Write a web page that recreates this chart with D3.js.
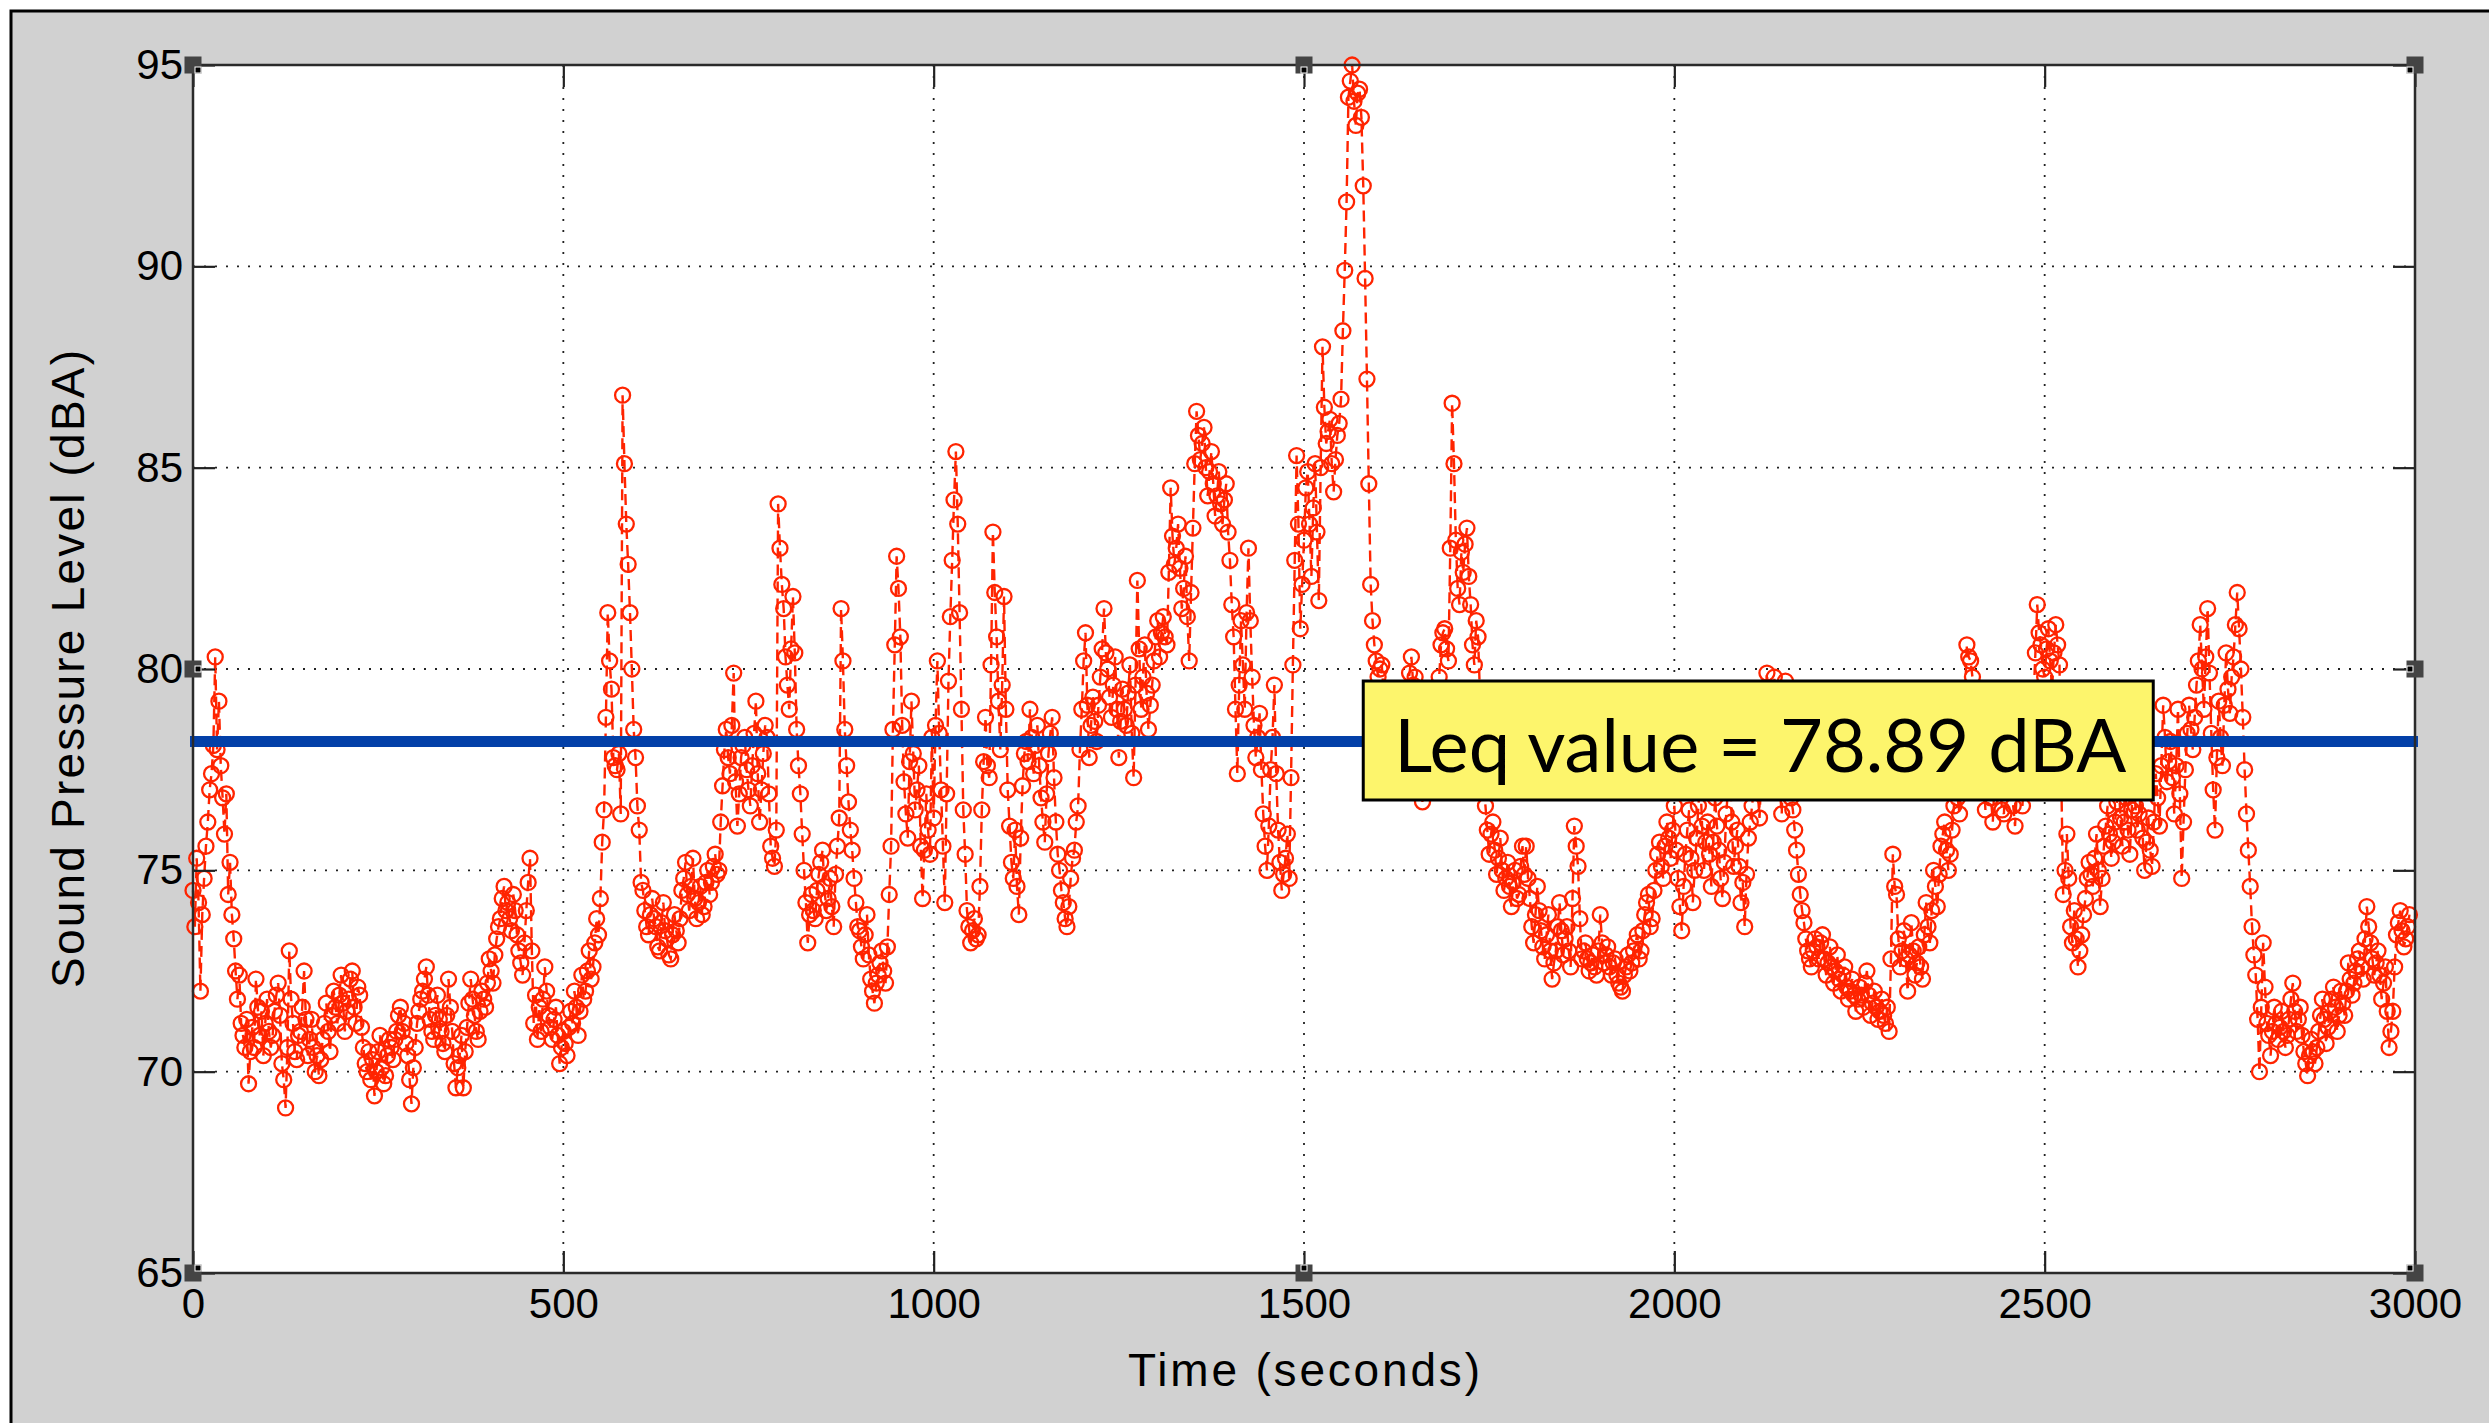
<!DOCTYPE html>
<html>
<head>
<meta charset="utf-8">
<script src="https://cdn.jsdelivr.net/npm/d3@7"></script>
<style>
  html, body { margin: 0; padding: 0; background: #fff; }
</style>
</head>
<body>
<div id="renderDiv"></div>
<script>
// sound pressure level (dBA), one sample every 2.5 s
const sampleStep = 2.5;
const spl0to500 = [
  74.5, 73.6, 75.3, 74.2, 72.0, 73.9, 74.8, 75.6, 76.2, 77.0, 77.4, 78.1, 80.3, 78.0, 79.2, 77.6, 76.8, 75.9, 76.9, 74.4,
  75.2, 73.9, 73.3, 72.5, 71.8, 72.4, 71.2, 70.9, 70.6, 71.3, 69.7, 70.5, 71.1, 70.6, 72.3, 71.6, 70.9, 71.5, 70.4, 71.2,
  71.8, 71.0, 70.6, 70.9, 71.5, 71.9, 72.2, 71.4, 70.2, 69.8, 69.1, 70.6, 73.0, 71.8, 71.2, 70.5, 70.3, 70.9, 71.0, 71.6,
  72.5, 71.3, 70.4, 70.8, 71.3, 70.6, 70.0, 70.4, 69.9, 70.3, 70.8, 71.2, 71.7, 71.0, 70.5, 71.4, 72.0, 71.6, 71.2, 71.9,
  72.4, 71.7, 71.0, 71.5, 71.8, 72.3, 72.5, 71.6, 71.2, 72.1, 71.9, 71.1, 70.6, 70.2, 70.0, 70.5, 69.8, 70.3, 69.4, 70.0,
  70.5, 70.9, 70.1, 69.7, 69.9, 70.4, 70.8, 70.6, 70.3, 70.8, 71.0, 71.4, 71.6, 71.0, 71.2, 70.7, 70.4, 69.8, 69.2, 70.1,
  70.6, 71.2, 71.5, 71.8, 72.0, 72.3, 72.6, 71.9, 71.3, 71.0, 70.8, 71.4, 71.9, 71.3, 71.0, 70.7, 70.5, 71.4, 72.3, 71.6,
  71.0, 70.2, 69.6, 70.1, 70.4, 70.9, 69.6, 70.5, 71.1, 71.7, 72.3, 71.8, 71.4, 71.0, 70.8, 71.5, 72.0, 71.8, 71.6, 72.2,
  72.8, 72.5, 72.2, 72.9, 73.3, 73.6, 73.8, 74.3, 74.6, 74.0, 74.2, 73.8, 73.5, 74.4, 74.0, 73.4, 73.0, 72.7, 72.4, 73.2,
  74.0, 74.7, 75.3, 73.0, 71.2, 71.9, 70.8, 71.6, 71.0, 71.8, 72.6, 72.0, 71.4, 71.1, 70.8, 71.3, 71.6, 70.9, 70.2, 70.6
];
const spl500to1000 = [
  71.0, 70.7, 70.4, 71.1, 71.5, 71.2, 72.0, 71.6, 70.9, 71.5, 72.4, 71.8, 72.0, 72.5, 73.0, 72.3, 72.6, 73.2, 73.8, 73.4,
  74.3, 75.7, 76.5, 78.8, 81.4, 80.2, 79.5, 77.8, 77.6, 77.5, 77.9, 76.4, 86.8, 85.1, 83.6, 82.6, 81.4, 80.0, 78.5, 77.8,
  76.6, 76.0, 74.7, 74.5, 74.0, 73.6, 73.4, 73.9, 74.3, 73.8, 73.6, 73.1, 73.0, 73.7, 74.2, 73.5, 73.3, 72.9, 72.8, 73.4,
  73.9, 73.5, 73.2, 73.8, 74.5, 74.8, 75.2, 74.4, 74.0, 74.6, 75.3, 74.3, 73.8, 74.2, 74.6, 73.9, 74.1, 74.7, 75.0, 74.4,
  74.7, 75.1, 75.4, 74.9, 75.0, 76.2, 77.1, 78.0, 78.5, 77.8, 77.4, 78.6, 79.9, 77.2, 76.1, 76.9, 77.8, 78.1, 78.3, 77.5,
  77.0, 76.6, 77.6, 78.4, 79.2, 77.4, 76.2, 77.0, 77.9, 78.6, 78.3, 76.9, 75.6, 75.3, 75.1, 76.0, 84.1, 83.0, 82.1, 81.5,
  80.3, 79.6, 79.0, 80.5, 81.8, 80.4, 78.5, 77.6, 76.9, 75.9, 75.0, 74.2, 73.2, 73.9, 74.4, 74.0, 73.8, 74.5, 74.9, 75.2,
  75.5, 74.6, 74.0, 74.3, 74.8, 74.1, 73.6, 74.9, 75.6, 76.3, 81.5, 80.2, 78.5, 77.6, 76.7, 76.0, 75.5, 74.8, 74.2, 73.6,
  73.5, 73.1, 72.8, 73.4, 73.9, 72.9, 72.3, 72.0, 71.7, 72.2, 72.4, 72.7, 73.0, 72.5, 72.2, 73.1, 74.4, 75.6, 78.5, 80.6,
  82.8, 82.0, 80.8, 78.6, 77.2, 76.4, 75.8, 77.7, 79.2, 77.9, 76.5, 77.0, 77.6, 75.6, 74.3, 75.5, 76.9, 76.0, 75.4, 78.3
];
const spl1000to1500 = [
  76.3, 78.6, 80.2, 78.4, 77.0, 75.6, 74.2, 76.9, 79.7, 81.3, 82.7, 84.2, 85.4, 83.6, 81.4, 79.0, 76.5, 75.4, 74.0, 73.6,
  73.2, 73.5, 73.8, 73.3, 73.4, 74.6, 76.5, 77.7, 78.8, 77.6, 77.3, 80.1, 83.4, 81.9, 80.8, 79.2, 78.0, 79.6, 81.8, 79.0,
  77.0, 76.1, 75.2, 74.8, 76.0, 74.6, 73.9, 75.8, 77.1, 77.9, 78.2, 77.7, 79.0, 78.3, 77.4, 78.1, 78.6, 77.6, 76.8, 76.2,
  75.7, 76.9, 77.9, 78.4, 78.8, 77.3, 76.2, 75.4, 75.0, 74.5, 74.2, 73.8, 73.6, 74.1, 74.8, 75.3, 75.5, 76.2, 76.6, 78.0,
  79.0, 80.2, 80.9, 79.1, 77.8, 78.6, 79.3, 78.7, 78.2, 79.1, 79.8, 80.5, 81.5, 80.4, 80.0, 79.3, 78.8, 79.6, 80.3, 79.0,
  77.8, 78.7, 79.5, 79.0, 78.6, 79.4, 80.1, 78.4, 77.3, 79.6, 82.2, 80.5, 79.0, 79.8, 80.6, 79.4, 78.5, 79.1, 79.6, 80.2,
  80.8, 81.2, 80.3, 80.9, 81.3, 80.8, 80.6, 82.4, 84.5, 83.3, 82.6, 83.0, 83.6, 82.5, 81.5, 82.0, 82.8, 81.3, 80.2, 81.9,
  83.5, 85.1, 86.4, 85.8, 85.2, 85.6, 86.0, 85.0, 84.3, 84.9, 85.4, 84.6, 83.8, 84.3, 84.9, 84.1, 83.6, 84.2, 84.6, 83.4,
  82.7, 81.6, 80.8, 79.0, 77.4, 79.6, 81.2, 80.1, 79.0, 81.4, 83.0, 81.2, 79.8, 78.6, 77.8, 78.3, 78.9, 77.5, 76.4, 75.6,
  75.0, 76.1, 77.5, 78.3, 79.6, 77.4, 76.0, 75.2, 74.5, 74.9, 75.3, 75.9, 74.8, 77.3, 80.1, 82.7, 85.3, 83.6, 81.0, 82.1
];
const spl1500to2000 = [
  83.2, 84.5, 84.9, 83.6, 82.3, 84.0, 85.1, 83.4, 81.7, 85.0, 88.0, 86.5, 85.6, 85.9, 86.2, 85.1, 84.4, 85.2, 85.8, 86.1,
  86.7, 88.4, 89.9, 91.6, 94.2, 94.6, 95.0, 94.1, 93.5, 94.3, 94.4, 93.7, 92.0, 89.7, 87.2, 84.6, 82.1, 81.2, 80.6, 80.2,
  79.8, 80.0, 80.1, 79.4, 78.5, 78.1, 77.8, 78.6, 79.2, 78.4, 78.0, 77.5, 77.2, 77.9, 78.6, 79.1, 79.5, 79.9, 80.3, 79.6,
  79.8, 78.8, 77.9, 77.2, 76.7, 77.0, 77.5, 78.0, 78.4, 77.9, 77.6, 78.3, 79.0, 79.8, 80.6, 80.9, 81.0, 80.5, 80.2, 83.0,
  86.6, 85.1, 83.2, 82.0, 81.6, 82.9, 82.4, 83.1, 83.5, 82.3, 81.6, 80.6, 80.1, 81.2, 80.8, 79.4, 78.0, 77.1, 76.6, 76.0,
  75.4, 75.9, 76.2, 75.5, 74.9, 75.3, 75.8, 75.0, 74.5, 74.8, 75.2, 74.6, 74.1, 74.7, 75.0, 74.3, 74.4, 75.1, 75.6, 74.9,
  75.6, 74.8, 74.3, 73.6, 73.2, 73.9, 74.6, 74.0, 73.5, 73.1, 72.8, 73.4, 73.9, 73.0, 72.3, 72.7, 73.0, 73.6, 74.2, 73.5,
  72.9, 73.3, 73.6, 73.0, 72.6, 74.3, 76.1, 75.6, 75.1, 73.8, 72.8, 73.0, 73.2, 72.8, 72.5, 72.7, 72.9, 72.6, 72.4, 73.0,
  73.9, 73.2, 72.7, 72.9, 73.1, 72.6, 72.4, 72.7, 72.8, 72.4, 72.2, 72.1, 72.0, 72.4, 72.6, 72.9, 72.5, 72.7, 73.0, 73.2,
  73.4, 72.8, 73.0, 73.5, 73.9, 74.2, 74.4, 73.6, 73.8, 74.5, 75.0, 75.4, 75.7, 75.1, 74.8, 75.6, 76.2, 75.8, 75.3, 76.0
];
const spl2000to2500 = [
  76.6, 75.5, 74.8, 74.1, 73.5, 74.6, 75.4, 76.0, 76.5, 75.3, 74.2, 75.0, 75.8, 76.6, 77.3, 76.1, 75.0, 75.7, 76.2, 75.4,
  74.6, 75.7, 76.8, 76.1, 75.5, 74.8, 74.3, 75.2, 76.4, 77.0, 77.6, 76.2, 75.1, 75.6, 76.0, 75.1, 74.2, 74.7, 73.6, 74.9,
  75.8, 76.2, 76.6, 77.1, 77.8, 77.0, 76.3, 77.4, 78.4, 79.0, 79.9, 78.6, 77.5, 78.9, 79.8, 78.7, 78.2, 77.0, 76.4, 78.1,
  79.7, 78.3, 77.0, 76.8, 76.5, 76.0, 75.5, 74.9, 74.4, 74.0, 73.7, 73.3, 73.0, 72.8, 72.6, 73.0, 73.3, 73.1, 72.8, 73.2,
  73.4, 72.8, 72.4, 72.7, 73.1, 72.6, 72.2, 72.5, 72.9, 72.3, 72.0, 72.4, 72.6, 72.1, 71.8, 72.0, 72.3, 71.9, 71.5, 71.8,
  72.1, 71.9, 71.6, 72.2, 72.5, 71.9, 71.4, 71.7, 72.0, 71.6, 71.3, 71.5, 71.8, 71.4, 71.2, 71.6, 71.0, 72.8, 75.4, 74.6,
  74.4, 73.3, 72.6, 73.0, 73.5, 72.8, 72.0, 72.9, 73.7, 73.0, 72.4, 72.7, 73.1, 72.6, 72.3, 73.4, 74.2, 73.6, 73.2, 74.0,
  75.0, 74.6, 74.1, 74.9, 75.6, 75.9, 76.2, 75.5, 75.0, 75.4, 76.0, 76.6, 77.2, 76.8, 76.4, 77.3, 78.3, 79.4, 80.6, 80.3,
  80.2, 79.8, 79.1, 78.2, 77.6, 77.0, 78.5, 77.4, 76.5, 77.2, 77.9, 76.8, 76.2, 77.3, 78.0, 77.5, 77.1, 76.5, 76.4, 77.6,
  78.6, 77.8, 77.3, 76.6, 76.1, 77.0, 77.8, 77.1, 76.6, 77.6, 78.3, 77.4, 77.0, 78.0, 79.3, 80.4, 81.6, 80.9, 80.6, 80.0
];
const spl2500to3000 = [
  79.8, 80.5, 81.0, 80.2, 79.5, 80.4, 81.1, 80.6, 80.1, 77.2, 74.4, 75.0, 75.9, 74.8, 73.6, 73.2, 74.0, 73.3, 72.6, 73.0,
  73.4, 73.9, 74.3, 74.8, 75.2, 74.9, 74.6, 75.3, 75.9, 75.0, 74.1, 74.8, 75.6, 76.1, 76.6, 75.9, 75.3, 75.7, 76.2, 76.7,
  77.1, 76.3, 75.6, 76.2, 76.8, 76.0, 75.4, 76.5, 77.4, 76.6, 76.0, 76.4, 77.0, 75.8, 75.0, 75.7, 76.3, 75.5, 75.1, 76.2,
  77.4, 76.8, 76.1, 77.6, 79.1, 78.3, 77.2, 77.7, 78.2, 77.3, 76.4, 77.6, 79.0, 76.9, 74.8, 76.2, 77.5, 78.4, 79.1, 78.5,
  78.0, 78.8, 79.6, 80.2, 81.1, 80.0, 79.0, 80.3, 81.5, 79.9, 78.4, 77.0, 76.0, 77.8, 79.2, 78.3, 77.6, 79.1, 80.4, 79.5,
  78.9, 79.8, 80.3, 81.1, 81.9, 81.0, 80.0, 78.8, 77.5, 76.4, 75.5, 74.6, 73.6, 72.9, 72.4, 71.3, 70.0, 71.6, 73.2, 72.1,
  71.2, 70.9, 70.4, 71.0, 71.6, 71.2, 70.8, 71.1, 71.5, 71.0, 70.6, 70.9, 71.3, 71.8, 72.2, 71.5, 71.0, 71.3, 71.6, 70.9,
  70.5, 70.2, 69.9, 70.4, 70.8, 70.5, 70.2, 70.6, 71.0, 71.4, 71.8, 71.3, 70.7, 71.1, 71.5, 71.8, 72.1, 71.6, 71.0, 71.4,
  72.0, 71.7, 71.4, 72.0, 72.7, 72.3, 71.9, 72.2, 72.5, 72.8, 73.0, 72.6, 72.3, 73.3, 74.1, 73.6, 73.2, 72.8, 72.4, 72.7,
  73.0, 72.4, 71.8, 72.2, 72.6, 71.5, 70.6, 71.0, 71.5, 72.6, 73.4, 73.7, 74.0, 73.5, 73.1, 73.3, 73.6, 73.9
];

const xTicks = [0, 500, 1000, 1500, 2000, 2500, 3000];
const yTicks = [65, 70, 75, 80, 85, 90, 95];
const xDomain = [0, 3000];
const yDomain = [65, 95];
const leqLine = 78.2;          // where the blue line sits in the picture
const leqLabel = "Leq value = 78.89 dBA";
const xLabel = "Time (seconds)";
const yLabel = "Sound Pressure Level (dBA)";

const WIDTH = 2489, HEIGHT = 1423;
const plot = { left: 193, right: 2415, top: 65, bottom: 1273 };
const axisFont = "'Liberation Sans', Arial, Helvetica, sans-serif";
const red = "#ff2400";

const spl = [].concat(spl0to500, spl500to1000, spl1000to1500, spl1500to2000, spl2000to2500, spl2500to3000);
const data = spl.map((v, i) => ({ t: i * sampleStep, v: v }));

const svg = d3.select("#renderDiv").append("svg")
    .attr("width", WIDTH).attr("height", HEIGHT);

// grey figure background with the black frame on top/left
svg.append("rect").attr("x", 11).attr("y", 11)
    .attr("width", WIDTH - 11).attr("height", HEIGHT - 11).attr("fill", "#d1d1d1");
svg.append("path").attr("d", `M11,${HEIGHT} L11,11 L${WIDTH},11`)
    .attr("fill", "none").attr("stroke", "#000").attr("stroke-width", 3);

const xScale = d3.scaleLinear().domain(xDomain).range([plot.left, plot.right]);
const yScale = d3.scaleLinear().domain(yDomain).range([plot.bottom, plot.top]);

svg.append("rect")
    .attr("x", plot.left).attr("y", plot.top)
    .attr("width", plot.right - plot.left).attr("height", plot.bottom - plot.top)
    .attr("fill", "#fff");

// dotted grid
let grid = svg.append("g").attr("stroke", "#222").attr("stroke-width", 1.8)
    .attr("stroke-dasharray", "2,9");
grid.selectAll(".gx").data(xTicks.slice(1, -1)).enter().append("line")
    .attr("x1", d => xScale(d)).attr("x2", d => xScale(d))
    .attr("y1", plot.top).attr("y2", plot.bottom);
grid.selectAll(".gy").data(yTicks.slice(1, -1)).enter().append("line")
    .attr("x1", plot.left).attr("x2", plot.right)
    .attr("y1", d => yScale(d)).attr("y2", d => yScale(d));

// dashed red trace + circle markers
let line = d3.line().x(d => xScale(d.t)).y(d => yScale(d.v));
svg.append("path").datum(data)
    .attr("d", line)
    .attr("fill", "none").attr("stroke", red)
    .attr("stroke-width", 2.4).attr("stroke-dasharray", "11,6");
svg.append("g").selectAll("circle").data(data).enter().append("circle")
    .attr("cx", d => xScale(d.t)).attr("cy", d => yScale(d.v))
    .attr("r", 7.5)
    .attr("fill", "none").attr("stroke", red).attr("stroke-width", 2.3);

// Leq line
svg.append("line")
    .attr("x1", xScale(xDomain[0]) - 3).attr("x2", xScale(xDomain[1]) + 3)
    .attr("y1", yScale(leqLine)).attr("y2", yScale(leqLine))
    .attr("stroke", "#0340a8").attr("stroke-width", 11);

// axes (ticks point inwards, MATLAB style)
function styleAxis(g) {
    g.select(".domain").remove();
    g.selectAll(".tick line").attr("stroke", "#222").attr("stroke-width", 2.2);
    g.selectAll("text").attr("fill", "#000")
        .attr("font-family", axisFont).attr("font-size", 42);
}
svg.append("g").attr("transform", `translate(0,${plot.bottom})`)
    .call(d3.axisBottom(xScale).tickValues(xTicks).tickFormat(d3.format("d"))
        .tickSize(-22).tickPadding(15))
    .call(styleAxis);
svg.append("g").attr("transform", `translate(0,${plot.top})`)
    .call(d3.axisTop(xScale).tickValues(xTicks).tickSize(-22).tickFormat(""))
    .call(styleAxis);
svg.append("g").attr("transform", `translate(${plot.left},0)`)
    .call(d3.axisLeft(yScale).tickValues(yTicks).tickSize(-22).tickPadding(10))
    .call(styleAxis);
svg.append("g").attr("transform", `translate(${plot.right},0)`)
    .call(d3.axisRight(yScale).tickValues(yTicks).tickSize(-22).tickFormat(""))
    .call(styleAxis);

svg.append("rect")
    .attr("x", plot.left).attr("y", plot.top)
    .attr("width", plot.right - plot.left).attr("height", plot.bottom - plot.top)
    .attr("fill", "none").attr("stroke", "#2a2a2a").attr("stroke-width", 2.5);

// selection handles left on the axes
const handles = [
    [xDomain[0], yDomain[0]], [1500, yDomain[0]], [xDomain[1], yDomain[0]],
    [xDomain[0], 80], [xDomain[1], 80],
    [xDomain[0], yDomain[1]], [1500, yDomain[1]], [xDomain[1], yDomain[1]]
];
let hg = svg.append("g");
handles.forEach(function (h) {
    let cx = xScale(h[0]), cy = yScale(h[1]);
    let sx = h[0] === xDomain[0] ? 1 : (h[0] === xDomain[1] ? -1 : 0);
    let sy = h[1] === yDomain[1] ? 1 : (h[1] === yDomain[0] ? -1 : 0);
    hg.append("rect").attr("x", cx - 8.5).attr("y", cy - 8.5)
        .attr("width", 17).attr("height", 17).attr("fill", "#444");
    hg.append("rect")
        .attr("x", cx + (sx >= 0 ? 2 : -8) - (sx === 0 ? 5 : 0))
        .attr("y", cy + (sy >= 0 ? 2 : -8) - (sy === 0 ? 5 : 0))
        .attr("width", 6).attr("height", 6)
        .attr("fill", "#000").attr("stroke", "#fff").attr("stroke-width", 1);
});

// axis titles
svg.append("text")
    .attr("x", (plot.left + plot.right) / 2).attr("y", 1386)
    .attr("text-anchor", "middle")
    .attr("font-family", axisFont).attr("font-size", 46)
    .attr("textLength", 352).attr("lengthAdjust", "spacing")
    .text(xLabel);
svg.append("text")
    .attr("transform", `translate(84,${(plot.top + plot.bottom) / 2}) rotate(-90)`)
    .attr("text-anchor", "middle")
    .attr("font-family", axisFont).attr("font-size", 46)
    .attr("textLength", 638).attr("lengthAdjust", "spacing")
    .text(yLabel);

// Leq annotation box
let box = { x: xScale(1580), y: 681, w: 790, h: 119 };
svg.append("rect")
    .attr("x", box.x).attr("y", box.y).attr("width", box.w).attr("height", box.h)
    .attr("fill", "#fdf56c").attr("stroke", "#000").attr("stroke-width", 3);
svg.append("text")
    .attr("x", box.x + 31).attr("y", 772)
    .attr("font-family", "Lato, 'Open Sans', sans-serif").attr("font-size", 74)
    .attr("textLength", 732).attr("lengthAdjust", "spacingAndGlyphs")
    .attr("fill", "#000")
    .text(leqLabel);
</script>
</body>
</html>
